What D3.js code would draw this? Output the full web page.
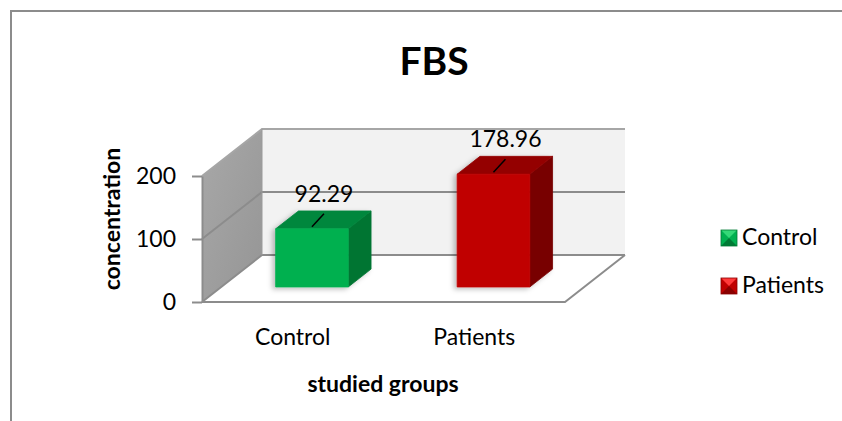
<!DOCTYPE html>
<html>
<head>
<meta charset="utf-8">
<script src="https://cdn.jsdelivr.net/npm/d3@7"></script>
<style>
  html, body { margin: 0; padding: 0; background: #fff; }
  svg { display: block; font-family: Lato, "Open Sans", sans-serif; }
</style>
</head>
<body>
<script>
// ---- data ----
const categories = ["Control", "Patients"];
const values = [92.29, 178.96];
const valueLabels = ["92.29", "178.96"];
const yTicks = [0, 100, 200];
const title = "FBS";
const xTitle = "studied groups";
const yTitle = "concentration";

// ---- styles ----
const palette = {
  Control:  { front: "#00B050", top: "#00873E", side: "#007533", light: "#33D877", dark: "#007A35" },
  Patients: { front: "#C00000", top: "#940000", side: "#780000", light: "#FF3A3A", dark: "#8A0000" }
};

const W = 842, H = 421;
const svg = d3.select("body").append("svg").attr("width", W).attr("height", H);

const defs = svg.append("defs");
const sideGrad = defs.append("linearGradient").attr("id", "sideGrad")
  .attr("x1", 0).attr("y1", 0).attr("x2", 1).attr("y2", 1);
sideGrad.append("stop").attr("offset", "0%").attr("stop-color", "#A8A8A8");
sideGrad.append("stop").attr("offset", "100%").attr("stop-color", "#959595");
const shadow = defs.append("filter").attr("id", "shadow")
  .attr("x", "-20%").attr("y", "-20%").attr("width", "140%").attr("height", "140%");
shadow.append("feDropShadow").attr("dx", -3).attr("dy", 2).attr("stdDeviation", 2.5)
  .attr("flood-color", "#000").attr("flood-opacity", 0.25);

// outer border
svg.append("rect").attr("x", 11).attr("y", 11).attr("width", 900).attr("height", 500)
  .attr("fill", "none").attr("stroke", "#8C8C8C").attr("stroke-width", 2);

// ---- scales (front plane) ----
const x = d3.scaleBand().domain(categories).range([202, 565]).padding(0);
const y = d3.scaleLinear().domain([0, 200]).range([302, 176]);
const DX = 60, DY = -47; // depth vector
const P = (px, v, z) => [px + z * DX, y(v) + z * DY];
const line = d3.line();
const poly = pts => line(pts) + "Z";

const gridColor = "#8C8C8C";

// back wall
svg.append("path")
  .attr("d", poly([P(202, 0, 1), P(565, 0, 1), P(565, 200, 1), P(202, 200, 1)]))
  .attr("fill", "#F2F2F2");
// side wall
svg.append("path")
  .attr("d", poly([P(202, 0, 0), P(202, 0, 1), P(202, 200, 1), P(202, 200, 0)]))
  .attr("fill", "url(#sideGrad)");
// floor
svg.append("path")
  .attr("d", poly([P(202, 0, 0), P(565, 0, 0), P(565, 0, 1), P(202, 0, 1)]))
  .attr("fill", "#FFFFFF");

// gridlines (side wall + back wall)
const grid = svg.append("g").attr("fill", "none").attr("stroke", gridColor).attr("stroke-width", 2);
yTicks.forEach(t => {
  grid.append("path").attr("d", line([P(202, t, 0), P(202, t, 1), P(565, t, 1)]))
    .attr("stroke", t === 200 ? "#A6A6A6" : gridColor);
});
// floor outline
grid.append("path").attr("d", line([P(202, 0, 0), P(565, 0, 0), P(565, 0, 1)]));
// back-left vertical edge
grid.append("path").attr("d", line([P(202, 0, 1), P(202, 200, 1)])).attr("stroke", "#9A9A9A").attr("stroke-width", 1);

// y axis (front-left edge of side wall)
const yAxis = svg.append("g").attr("transform", "translate(202,0)")
  .call(d3.axisLeft(y).tickValues(yTicks).tickSize(10).tickSizeOuter(0).tickPadding(16));
yAxis.select(".domain").attr("stroke", gridColor).attr("stroke-width", 2);
yAxis.selectAll(".tick line").attr("stroke", gridColor).attr("stroke-width", 2);
yAxis.selectAll(".tick text").attr("font-size", 23).attr("fill", "#000")
  .attr("font-family", "Lato, sans-serif");

// x axis labels
const xAxis = svg.append("g").attr("transform", "translate(0,302)")
  .call(d3.axisBottom(x).tickSize(0).tickPadding(27));
xAxis.select(".domain").remove();
xAxis.selectAll(".tick text").attr("font-size", 23).attr("fill", "#000")
  .attr("font-family", "Lato, sans-serif");

// ---- bars ----
const z0 = 0.32, z1 = 0.70;
const bars = svg.append("g");
categories.forEach((c, i) => {
  const v = values[i];
  const bw = x.bandwidth();
  const x0 = x(c) + bw * 0.3, x1 = x0 + bw * 0.4;
  const col = palette[c];
  const g = bars.append("g").attr("filter", "url(#shadow)");
  g.append("path").attr("d", poly([P(x1, 0, z0), P(x1, 0, z1), P(x1, v, z1), P(x1, v, z0)]))
    .attr("fill", col.side).attr("stroke", col.side).attr("stroke-width", 0.8).attr("stroke-linejoin", "round");
  g.append("path").attr("d", poly([P(x0, v, z0), P(x1, v, z0), P(x1, v, z1), P(x0, v, z1)]))
    .attr("fill", col.top).attr("stroke", col.top).attr("stroke-width", 0.8).attr("stroke-linejoin", "round");
  g.append("path").attr("d", poly([P(x0, 0, z0), P(x1, 0, z0), P(x1, v, z0), P(x0, v, z0)]))
    .attr("fill", col.front).attr("stroke", col.front).attr("stroke-width", 0.8).attr("stroke-linejoin", "round");

  // data label with leader line
  const [fx, fy] = P((x0 + x1) / 2, v, z0);
  svg.append("line")
    .attr("x1", fx).attr("y1", fy - 2).attr("x2", fx + 12).attr("y2", fy - 15)
    .attr("stroke", "#000").attr("stroke-width", 1.5);
  svg.append("text").attr("x", fx + 12).attr("y", fy - 27)
    .attr("text-anchor", "middle").attr("font-size", 23).attr("fill", "#000")
    .text(valueLabels[i]);
});

// ---- titles ----
svg.append("text").attr("x", 434).attr("y", 75).attr("text-anchor", "middle")
  .attr("font-size", 39).attr("font-weight", "bold").attr("fill", "#000").text(title);
svg.append("text").attr("x", 383).attr("y", 392).attr("text-anchor", "middle")
  .attr("font-size", 23).attr("font-weight", "bold").attr("fill", "#000").text(xTitle);
svg.append("text").attr("transform", "translate(120,219) rotate(-90)").attr("text-anchor", "middle")
  .attr("font-size", 23).attr("font-weight", "bold").attr("fill", "#000").text(yTitle);

// ---- legend ----
const legend = svg.append("g");
categories.forEach((c, i) => {
  const col = palette[c];
  const lx = 721, ly = 230 + i * 48, s = 16;
  const g = legend.append("g").attr("transform", `translate(${lx},${ly})`);
  g.append("rect").attr("width", s).attr("height", s).attr("fill", col.front);
  g.append("path").attr("d", poly([[0, 0], [s, 0], [s / 2, s / 2]])).attr("fill", col.light);
  g.append("path").attr("d", poly([[0, s], [s, s], [s / 2, s / 2]])).attr("fill", col.dark);
  g.append("rect").attr("width", s).attr("height", s).attr("fill", "none")
    .attr("stroke", col.dark).attr("stroke-width", 0.8);
  legend.append("text").attr("x", 742).attr("y", ly + 15).attr("font-size", 23).attr("fill", "#000").text(c);
});
</script>
</body>
</html>
